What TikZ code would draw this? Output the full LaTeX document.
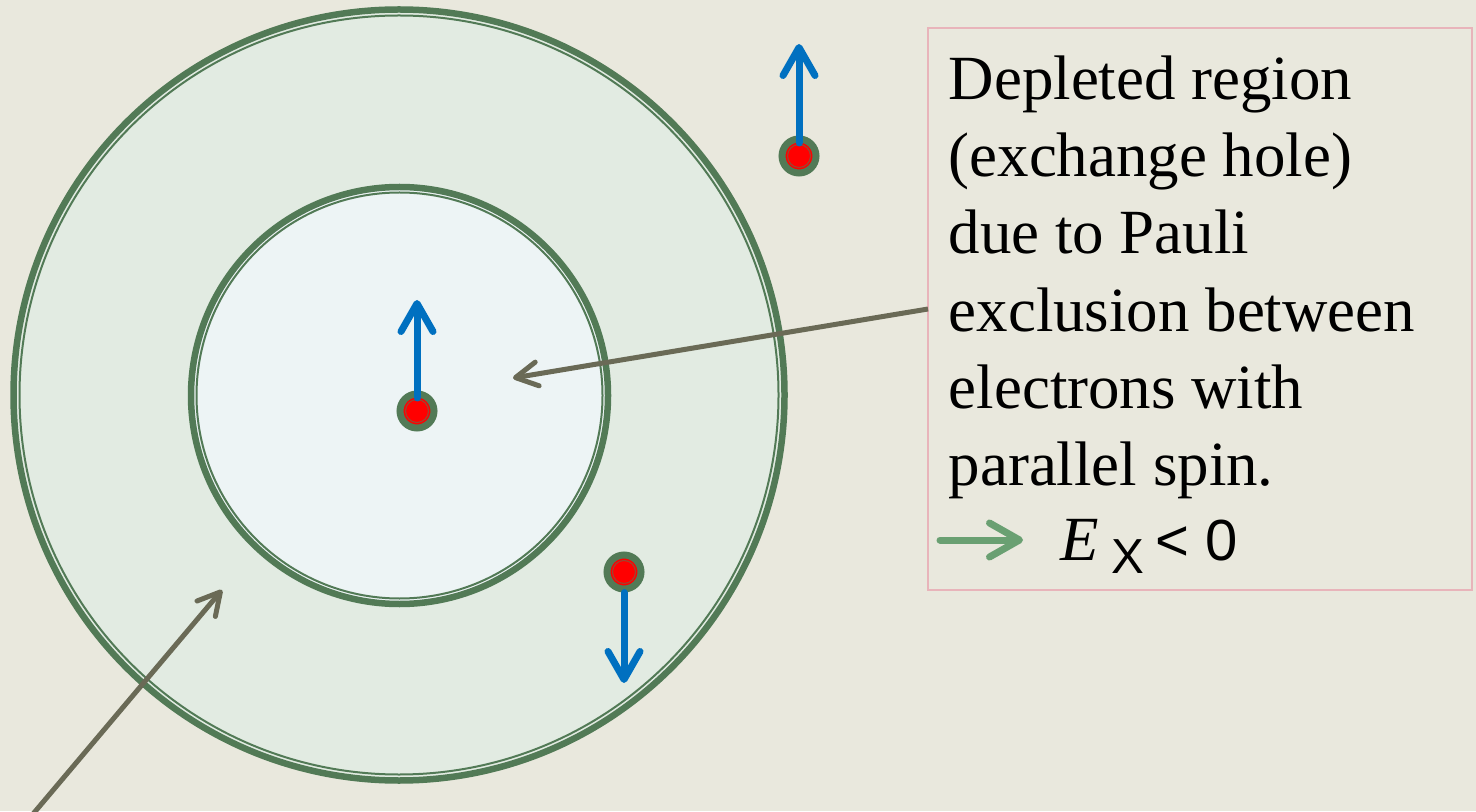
\documentclass[tikz,border=0pt]{standalone}
\usepackage{fontspec}
\setmainfont{Liberation Serif}
\setsansfont{Liberation Sans}
\usetikzlibrary{arrows.meta,positioning}
\definecolor{bgsand}{RGB}{233,232,221}
\definecolor{shellgreen}{RGB}{226,235,226}
\definecolor{holeblue}{RGB}{237,244,245}
\definecolor{ringgreen}{RGB}{82,122,86}
\definecolor{spinblue}{RGB}{0,112,192}
\definecolor{pointgrey}{RGB}{106,106,86}
\definecolor{legendgreen}{RGB}{106,160,114}
\definecolor{boxpink}{RGB}{232,180,186}

\begin{document}
\begin{tikzpicture}[font=\fontsize{17.9}{21.9}\selectfont,
  ring/.style={draw=ringgreen,line width=0.065cm},
  ringthin/.style={draw=ringgreen,line width=0.02cm},
  electron/.style={circle,fill=red,draw=ringgreen,line width=0.07cm,minimum size=0.34cm,inner sep=0pt,
    path picture={\draw[ringgreen!55!red,line width=0.012cm] (path picture bounding box.center) circle (0.115cm);}},
  spin/.style={-{Straight Barb[round,length=0.28cm,width=0.32cm]},spinblue,line width=0.07cm,line cap=round},
  pointer/.style={-{Straight Barb[round,length=0.22cm,width=0.24cm]},pointgrey,line width=0.05cm},
  infobox/.style={draw=boxpink,line width=0.02cm,inner sep=0pt,outer sep=0pt},
  textline/.style={anchor=base west,inner sep=0pt}]
  \useasboundingbox (0,0) rectangle (14.76,8.11);
  \fill[bgsand] (0,0) rectangle (14.76,8.11);

  % outer shell
  \fill[shellgreen] (3.99,4.16) circle (3.855);
  \draw[ring] (3.99,4.16) circle (3.855);
  \draw[ringthin] (3.99,4.16) circle (3.795);
  % exchange hole
  \fill[holeblue] (3.995,4.155) circle (2.085);
  \draw[ring] (3.995,4.155) circle (2.085);
  \draw[ringthin] (3.995,4.155) circle (2.03);

  % info box
  \node[infobox,minimum width=5.44cm,minimum height=5.62cm] (box) at (12.00,5.02) {};
  \foreach \txt [count=\i] in {Depleted region,{(exchange hole)},due to Pauli,exclusion between,electrons with,parallel spin.}
    \node[textline] (line\i) at (9.48,7.88-0.77*\i) {\txt};
  \coordinate (lgstart) at (9.40,2.71);
  \coordinate (lgend) at (10.23,2.71);
  \draw[-{Straight Barb[round,length=0.3cm,width=0.34cm]},legendgreen,line width=0.07cm,line cap=round] (lgstart) -- (lgend);
  \node[textline] (ex) at (10.60,2.51) {\textit{E}\hspace{0.12cm}\raisebox{-0.13cm}{\sffamily\fontsize{14}{16}\selectfont X}\hspace{0.12cm}{\sffamily\fontsize{16.5}{18}\selectfont < 0}};

  % pointers
  \coordinate (holept) at (5.13,4.33);
  \coordinate (shellpt) at (2.22,2.21);
  \coordinate (shellfoot) at (0.33,-0.03);
  \draw[pointer] (box.west) -- (holept);
  \draw[pointer] (shellfoot) -- (shellpt);

  % electrons and spins
  \node[electron] (e1) at (4.17,4.00) {};
  \node[electron] (e2) at (7.99,6.55) {};
  \node[electron] (e3) at (6.24,2.39) {};
  \coordinate (t1) at (4.17,5.11);
  \coordinate (t2) at (7.99,7.67);
  \coordinate (t3) at (6.24,1.28);
  \draw[spin,shorten <=0.13cm] (e1.center) -- (t1);
  \draw[spin,shorten <=0.13cm] (e2.center) -- (t2);
  \draw[spin] (e3) -- (t3);
\end{tikzpicture}
\end{document}
